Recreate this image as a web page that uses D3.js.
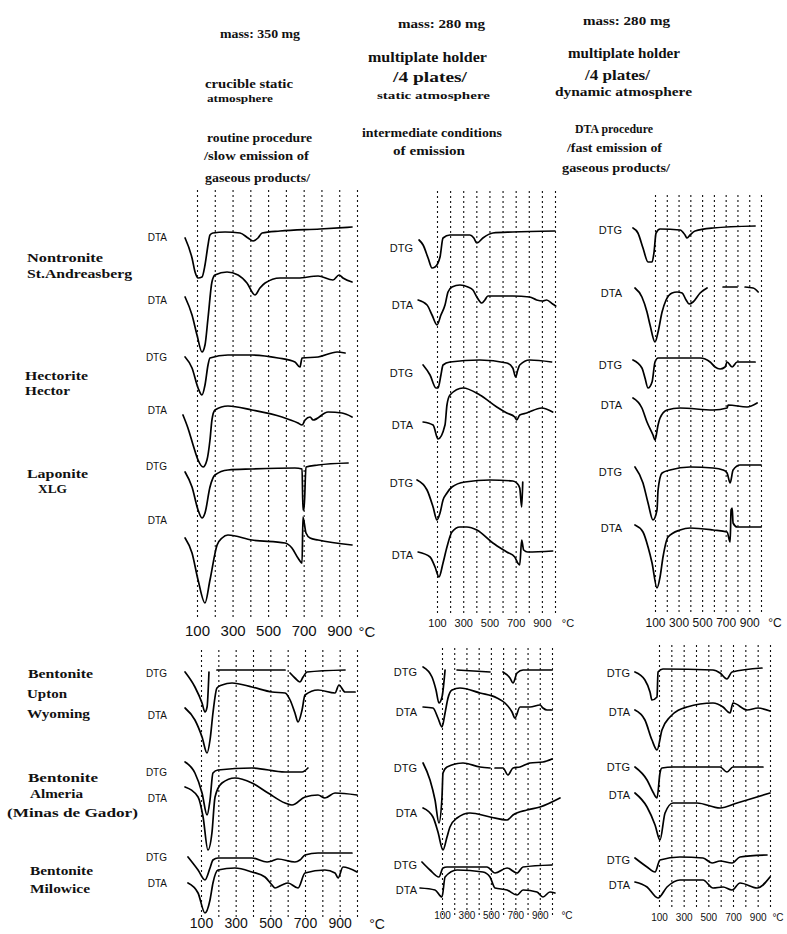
<!DOCTYPE html>
<html><head><meta charset="utf-8">
<script src="https://cdn.jsdelivr.net/npm/d3@7"></script>
<style>
html,body{margin:0;padding:0;background:#fff;}
svg{display:block;}
</style></head><body>
<svg id="chart" width="787" height="934"></svg>
<script>
// ================= DATA =================
const gridTemps = [100,200,300,400,500,600,700,800,900,1000];
const tickValues = [100,300,500,700,900];
const unitLabel = "°C";

const columnHeaders = [
  ["mass: 350 mg","crucible static","atmosphere","routine procedure","/slow emission of","gaseous products/"],
  ["mass: 280 mg","multiplate holder","/4 plates/","static atmosphere","intermediate conditions","of emission"],
  ["mass: 280 mg","multiplate holder","/4 plates/","dynamic atmosphere","DTA procedure","/fast emission of","gaseous products/"]
];
const rowLabels = [
  ["Nontronite","St.Andreasberg"],
  ["Hectorite","Hector"],
  ["Laponite","XLG"],
  ["Bentonite","Upton","Wyoming"],
  ["Bentonite","Almeria","(Minas de Gador)"],
  ["Bentonite","Milowice"]
];

// curves: [temperature °C, signal (arbitrary units, up = exo / down = endo)]
// column A: crucible, static atmosphere (350 mg)
const nontrA_1   = [[33,-5],[72,-25],[89,-39],[106,-45],[128,-44],[145,-32],[162,-12],[173,-2],[190,0],[258,1],[342,0],[387,-5],[415,-8],[443,-5],[466,0],[567,2],[792,4],[972,6]];
const nontrA_dta = [[33,-19],[72,-37],[100,-57],[128,-74],[145,-67],[162,-40],[184,-4],[201,3],[269,6],[331,3],[381,-5],[426,-17],[454,-10],[483,-5],[567,0],[668,0],[781,2],[865,-2],[899,3],[921,0],[972,-4]];
const hectA_dtg  = [[33,0],[72,-11],[106,-31],[128,-38],[145,-28],[162,-8],[173,-1],[274,2],[409,2],[556,-1],[651,-5],[679,-10],[691,-1],[781,0],[888,5],[933,4]];
const hectA_dta  = [[21,-3],[49,-16],[78,-33],[106,-48],[134,-55],[156,-48],[173,-28],[184,-8],[201,2],[274,6],[409,2],[578,-5],[668,-11],[691,-13],[708,-8],[736,-5],[753,-8],[837,0],[916,-1],[972,-5]];
const lapA_dtg   = [[33,-3],[72,-18],[106,-41],[128,-49],[145,-44],[173,-18],[201,-6],[274,-1],[409,0],[651,1],[691,0],[696,-41],[702,-41],[713,2],[781,4],[950,6]];
const lapA_dta   = [[33,2],[72,-13],[106,-40],[145,-63],[173,-40],[213,-5],[241,2],[274,5],[409,0],[595,-3],[634,-8],[668,-18],[691,-23],[696,23],[713,7],[736,2],[781,0],[972,-5]];
const uptonA_dtg = [[8,-2],[65,-17],[106,-33],[123,-42],[135,-37],[146,-2],[170,null],[192,0],[585,0],[600,null],[614,-3],[642,-8],[671,-12],[689,-7],[712,-2],[931,0]];
const uptonA_dta = [[8,-18],[65,-30],[106,-47],[135,-63],[152,-50],[169,-23],[192,2],[221,5],[279,7],[394,3],[510,-2],[585,-3],[614,-10],[642,-23],[660,-32],[683,-20],[700,-5],[775,0],[873,-3],[896,5],[931,-2],[989,-2]];
const almA_dtg   = [[8,8],[65,-3],[106,-23],[135,-45],[152,-30],[169,-3],[198,0],[394,2],[585,-2],[683,-2],[717,2]];
const almA_dta   = [[8,8],[83,-2],[112,-22],[140,-55],[163,-38],[181,-2],[221,12],[296,17],[394,12],[487,2],[585,-8],[625,-10],[700,-2],[775,0],[815,-3],[873,2],[1000,0]];
const milA_dtg   = [[25,1],[83,-12],[123,-22],[152,-10],[169,-2],[198,0],[394,0],[481,-4],[510,-3],[544,-1],[642,-4],[671,-2],[700,3],[775,5],[971,5]];
const milA_dta   = [[25,-11],[83,-21],[123,-41],[152,-28],[169,-11],[198,2],[296,4],[394,0],[469,-5],[510,-13],[527,-16],[567,-13],[602,-11],[660,-16],[700,-1],[815,2],[873,-1],[891,-6],[919,5],[1000,0]];

// column B: multiplate holder, static atmosphere (280 mg)
const nontrB_dtg = [[-37,-5],[-6,-10],[32,-23],[62,-33],[85,-32],[123,-22],[146,-3],[199,0],[351,0],[381,-3],[404,-8],[450,-3],[526,2],[678,3],[1000,4]];
const nontrB_dta = [[-44,-4],[24,-9],[62,-19],[100,-29],[130,-19],[161,-9],[184,4],[214,9],[275,11],[336,9],[374,6],[404,-1],[442,-7],[465,-4],[488,0],[579,0],[678,0],[807,-1],[860,-4],[906,-5],[936,-4],[982,-8],[1005,-10]];
const hectB_dtg  = [[-6,-3],[47,-13],[92,-26],[108,-26],[130,-13],[146,-3],[199,0],[427,2],[632,-1],[678,-6],[700,-15],[716,-8],[731,-3],[807,2],[974,0]];
const hectB_dta  = [[-6,-9],[70,-12],[108,-26],[161,-12],[176,8],[199,18],[298,25],[427,18],[556,6],[632,0],[693,-4],[708,-7],[731,-2],[784,0],[898,5],[982,1]];
const lapB_dtg   = [[-52,1],[24,-9],[70,-26],[100,-39],[123,-32],[146,-19],[176,-12],[214,-6],[313,-1],[503,1],[678,0],[708,-2],[731,-7],[746,-26],[754,-1]];
const lapB_dta   = [[-44,0],[47,-5],[85,-15],[115,-25],[146,-11],[176,5],[214,20],[275,25],[328,25],[404,22],[526,9],[632,0],[693,-5],[716,-11],[731,-13],[746,12],[761,2],[792,0],[982,1]];
const uptonB_dtg = [[-55,3],[18,-7],[51,-20],[75,-33],[100,-27],[125,0],[170,null],[223,0],[493,-2],[540,null],[599,-2],[656,-8],[681,-13],[714,-3],[763,0],[1000,0]];
const uptonB_dta = [[-55,-2],[26,-3],[67,-13],[100,-22],[125,-8],[149,7],[182,15],[247,17],[411,12],[550,7],[615,2],[673,-7],[697,-13],[738,-2],[820,-2],[902,0],[926,-3],[959,-5],[1000,-5]];
const almB_dtg   = [[-55,4],[2,-13],[43,-33],[75,-56],[100,-30],[108,-6],[141,0],[272,4],[411,0],[493,-1],[510,null],[534,-1],[599,-1],[640,-8],[681,-1],[738,0],[820,4],[926,5],[1000,8]];
const almB_dta   = [[-55,7],[26,-2],[67,-17],[108,-35],[141,-22],[165,-12],[223,-3],[329,2],[493,-2],[632,-5],[681,0],[795,5],[902,8],[1065,17]];
const milB_dtg   = [[-64,5],[2,-3],[75,-10],[108,-1],[141,0],[468,0],[534,-6],[632,-1],[714,-6],[763,0],[1000,2]];
const milB_dta   = [[-80,2],[43,0],[100,-7],[125,13],[223,20],[435,18],[493,13],[534,2],[632,0],[714,-5],[763,0],[877,-2],[926,-7],[983,-2],[1024,-3]];

// column C: multiplate holder, dynamic atmosphere (280 mg)
const nontrC_dtg = [[-87,1],[-45,-4],[-2,-19],[41,-33],[75,-33],[92,-23],[109,-4],[143,0],[313,-1],[355,-6],[372,-9],[398,-6],[440,-2],[593,1],[950,3]];
const nontrC_dta = [[-70,2],[-11,-7],[32,-22],[58,-35],[100,-52],[126,-42],[160,-22],[194,-10],[245,-3],[287,-2],[330,-3],[364,-10],[389,-14],[423,-12],[483,-3],[542,2],[600,null],[678,3],[797,3],[830,null],[865,3],[933,2],[976,-2]];
const hectC_dtg  = [[-87,-1],[-11,-9],[15,-19],[41,-29],[75,-23],[100,-3],[126,1],[313,1],[483,1],[568,-3],[610,-8],[653,-10],[695,-8],[712,-3],[755,-8],[797,-3],[950,-3]];
const hectC_dta  = [[-87,10],[-11,0],[32,-14],[83,-27],[100,-32],[126,-17],[143,-10],[202,-2],[313,0],[593,-2],[712,0],[721,3],[882,1],[967,5]];
const lapC_dtg   = [[-70,1],[-2,-15],[41,-35],[83,-52],[117,-42],[126,-22],[160,-5],[228,-2],[398,1],[593,0],[678,-2],[712,-5],[738,-15],[763,-2],[823,3],[1000,3]];
const lapC_dta   = [[-70,4],[-2,-3],[41,-18],[75,-34],[117,-59],[143,-48],[168,-28],[211,-8],[313,-1],[398,1],[593,-1],[712,-3],[738,-13],[746,19],[755,21],[763,6],[797,2],[1000,2]];
const uptonC_dtg = [[-95,-3],[-14,-11],[27,-23],[43,-31],[84,-28],[92,-3],[132,0],[538,-1],[595,-4],[651,-10],[692,-3],[935,1]];
const uptonC_dta = [[-95,-3],[-14,-13],[43,-33],[84,-43],[124,-23],[189,-10],[327,0],[538,4],[619,0],[676,-6],[700,4],[814,-3],[903,-1],[1000,-4]];
const almC_dtg   = [[-95,0],[3,-13],[51,-25],[84,-31],[108,-6],[124,-1],[214,0],[595,0],[651,-5],[700,0],[943,0]];
const almC_dta   = [[-95,10],[3,-4],[68,-22],[108,-37],[149,-10],[214,0],[408,0],[595,-5],[733,0],[814,3],[1000,10]];
const milC_dtg   = [[-95,0],[3,-9],[68,-14],[108,-2],[270,1],[457,0],[530,-5],[595,-3],[692,-5],[757,1],[976,3]];
const milC_dta   = [[-95,-2],[3,-7],[92,-18],[165,-7],[270,0],[457,0],[538,-8],[619,-7],[692,-10],[757,-3],[895,-8],[1000,3]];

const panelCurves = [
  [nontrA_1, nontrA_dta, hectA_dtg, hectA_dta, lapA_dtg, lapA_dta],
  [nontrB_dtg, nontrB_dta, hectB_dtg, hectB_dta, lapB_dtg, lapB_dta],
  [nontrC_dtg, nontrC_dta, hectC_dtg, hectC_dta, lapC_dtg, lapC_dta],
  [uptonA_dtg, uptonA_dta, almA_dtg, almA_dta, milA_dtg, milA_dta],
  [uptonB_dtg, uptonB_dta, almB_dtg, almB_dta, milB_dtg, milB_dta],
  [uptonC_dtg, uptonC_dta, almC_dtg, almC_dta, milC_dtg, milC_dta]
];
const panelCurveNames = [
  ["DTA","DTA","DTG","DTA","DTG","DTA"],
  ["DTG","DTA","DTG","DTA","DTG","DTA"],
  ["DTG","DTA","DTG","DTA","DTG","DTA"],
  ["DTG","DTA","DTG","DTA","DTG","DTA"],
  ["DTG","DTA","DTG","DTA","DTG","DTA"],
  ["DTG","DTA","DTG","DTA","DTG","DTA"]
];

// ================= LAYOUT =================
const panelLayout = [
  {x:[197,357], grid:[190,617], tickY:637, tickFS:15, unitDx:10, labelX:167, labelFS:10, bases:[233,278,357,412,469,540], labelYs:[237,300,357,410,466,520]},
  {x:[437,555], grid:[190,613], tickY:627, tickFS:11, unitDx:13, labelX:413, labelFS:11, bases:[235,296,362,413,481,552], labelYs:[248,305,373,425,483,555]},
  {x:[655,761], grid:[192,612], tickY:627, tickFS:12, unitDx:14, labelX:622, labelFS:11, bases:[229,290,359,408,468,529], labelYs:[230,293,365,405,472,528]},
  {x:[201,357], grid:[648,917], tickY:929, tickFS:14, unitDx:20, labelX:167, labelFS:10, bases:[670,690,770,795,858,872], labelYs:[673,715,772,798,857,883]},
  {x:[442,552], grid:[648,915], tickY:919, tickFS:10, unitDx:15, labelX:417, labelFS:11, bases:[670,705,767,815,867,890], labelYs:[672,712,768,813,865,890]},
  {x:[659,770], grid:[645,907], tickY:921, tickFS:10, unitDx:8, labelX:630, labelFS:11, bases:[669,707,767,803,858,880], labelYs:[673,712,767,795,860,885]}
];
const headerLayout = [
  [{x:220,y:33,w:80,fs:13},{x:205,y:83,w:88,fs:13},{x:207,y:98,w:66,fs:11},{x:207,y:137,w:105,fs:13},{x:204,y:155,w:105,fs:13},{x:205,y:177,w:105,fs:13}],
  [{x:398,y:23,w:87,fs:13},{x:368,y:57,w:119,fs:14},{x:393,y:77,w:74,fs:14},{x:377,y:95,w:113,fs:11},{x:362,y:132,w:140,fs:13},{x:393,y:150,w:72,fs:13}],
  [{x:583,y:20,w:87,fs:13},{x:568,y:53,w:112,fs:14},{x:585,y:75,w:65,fs:14},{x:555,y:92,w:137,fs:12},{x:575,y:128,w:78,fs:13},{x:567,y:147,w:95,fs:13},{x:562,y:167,w:108,fs:13}]
];
const rowLabelLayout = [
  [{x:27,y:257,w:76},{x:27,y:273,w:105}],
  [{x:25,y:375,w:63},{x:25,y:390,w:45}],
  [{x:27,y:473,w:61},{x:38,y:488,w:29}],
  [{x:28,y:673,w:65},{x:27,y:693,w:40},{x:27,y:713,w:63}],
  [{x:28,y:777,w:70},{x:30,y:793,w:53},{x:7,y:812,w:131}],
  [{x:30,y:870,w:63},{x:30,y:888,w:60}]
];

const SERIF = "'Liberation Serif','DejaVu Serif',serif";
const SANS = "'Liberation Sans','DejaVu Sans',sans-serif";
const INK = "#111";

// ================= DRAW =================
const svg = d3.select("#chart");
svg.append("rect").attr("width",787).attr("height",934).attr("fill","#fff");

columnHeaders.forEach((lines,c)=>{
  lines.forEach((t,k)=>{
    const L = headerLayout[c][k];
    svg.append("text").attr("x",L.x).attr("y",L.y).attr("dy","0.35em")
      .attr("font-family",SERIF).attr("font-weight","bold").attr("font-size",L.fs)
      .attr("textLength",L.w).attr("lengthAdjust","spacingAndGlyphs")
      .attr("fill",INK).text(t);
  });
});

rowLabels.forEach((lines,r)=>{
  lines.forEach((t,k)=>{
    const L = rowLabelLayout[r][k];
    svg.append("text").attr("x",L.x).attr("y",L.y).attr("dy","0.35em")
      .attr("font-family",SERIF).attr("font-weight","bold").attr("font-size",13)
      .attr("textLength",L.w).attr("lengthAdjust","spacingAndGlyphs")
      .attr("fill",INK).text(t);
  });
});

panelLayout.forEach((p,i)=>{
  const x = d3.scaleLinear().domain([100,1000]).range(p.x);
  const y = d3.scaleLinear().domain([-100,100]).range([100,-100]);
  const g = svg.append("g");

  const gridAxis = d3.axisBottom(x).tickValues(gridTemps).tickSize(-(p.grid[1]-p.grid[0])).tickFormat("");
  const gg = g.append("g").attr("transform",`translate(0,${p.grid[1]})`).call(gridAxis);
  gg.select(".domain").remove();
  gg.selectAll(".tick line").attr("stroke",INK).attr("stroke-width",1.1).attr("stroke-dasharray","2,3");

  const labAxis = d3.axisBottom(x).tickValues(tickValues).tickSize(0).tickPadding(0).tickFormat(d3.format("d"));
  const lg = g.append("g").attr("transform",`translate(0,${p.tickY - p.tickFS*0.75})`).call(labAxis);
  lg.select(".domain").remove();
  lg.selectAll(".tick text").attr("font-family",SANS).attr("font-size",p.tickFS).attr("fill",INK).attr("dy","0.71em");
  g.append("text").attr("x",x(1000)+p.unitDx).attr("y",p.tickY).attr("font-family",SANS)
    .attr("font-size",p.tickFS).attr("text-anchor","middle").attr("fill",INK).text(unitLabel);

  const line = d3.line().defined(d=>d[1]!==null).x(d=>x(d[0])).y(d=>y(d[1])).curve(d3.curveMonotoneX);
  panelCurves[i].forEach((data,j)=>{
    g.append("g").attr("transform",`translate(0,${p.bases[j]})`)
      .append("path").datum(data).attr("d",line).attr("fill","none")
      .attr("stroke","#000").attr("stroke-width",1.7).attr("stroke-linejoin","round").attr("stroke-linecap","round");
    g.append("text").attr("x",p.labelX).attr("y",p.labelYs[j]).attr("dy","0.35em")
      .attr("text-anchor","end").attr("font-family",SANS).attr("font-size",p.labelFS)
      .attr("fill",INK).text(panelCurveNames[i][j]);
  });
});
</script>
</body></html>
